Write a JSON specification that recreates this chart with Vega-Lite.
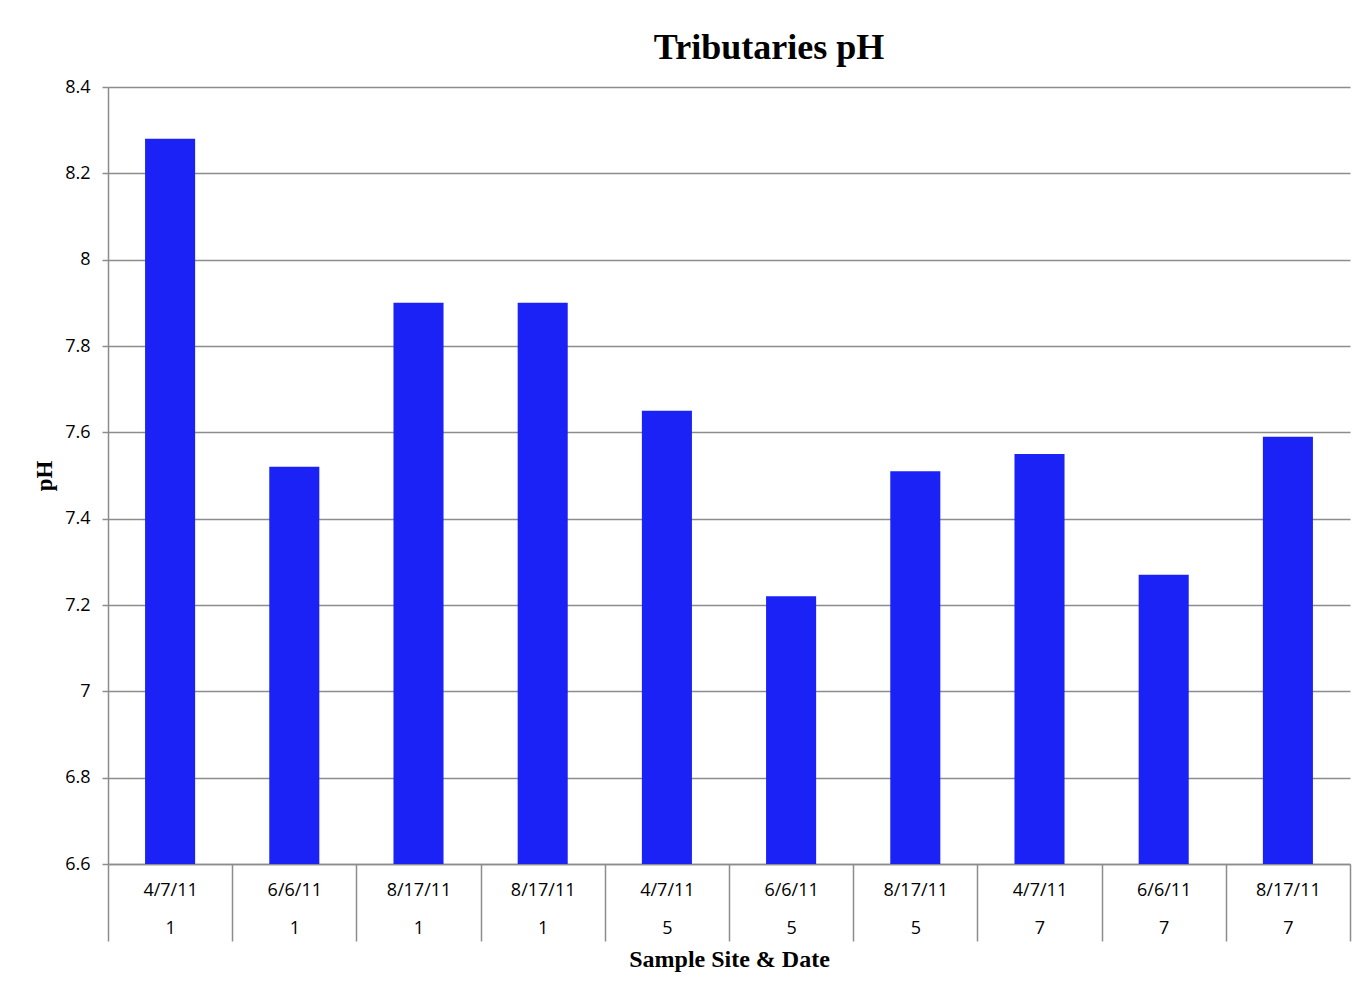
{
  "$schema": "https://vega.github.io/schema/vega-lite/v6.json",
  "autosize": {"type": "none"},
  "padding": {"left": 108, "top": 87, "right": 6, "bottom": 129},
  "width": 1242,
  "height": 777,
  "background": "white",
  "title": {
    "text": "Tributaries pH",
    "font": "Liberation Serif",
    "fontSize": 36,
    "fontWeight": "bold",
    "color": "black",
    "anchor": "middle",
    "dx": 40,
    "offset": 11
  },
  "data": {
    "values": [
      {"cat": "a|4/7/11|1", "date": "4/7/11", "site": "1", "pH": 8.28},
      {"cat": "b|6/6/11|1", "date": "6/6/11", "site": "1", "pH": 7.52},
      {"cat": "c|8/17/11|1", "date": "8/17/11", "site": "1", "pH": 7.9},
      {"cat": "d|8/17/11|1", "date": "8/17/11", "site": "1", "pH": 7.9},
      {"cat": "e|4/7/11|5", "date": "4/7/11", "site": "5", "pH": 7.65},
      {"cat": "f|6/6/11|5", "date": "6/6/11", "site": "5", "pH": 7.22},
      {"cat": "g|8/17/11|5", "date": "8/17/11", "site": "5", "pH": 7.51},
      {"cat": "h|4/7/11|7", "date": "4/7/11", "site": "7", "pH": 7.55},
      {"cat": "i|6/6/11|7", "date": "6/6/11", "site": "7", "pH": 7.27},
      {"cat": "j|8/17/11|7", "date": "8/17/11", "site": "7", "pH": 7.59}
    ]
  },
  "mark": {"type": "bar", "color": "#1a22f5", "width": {"band": 0.403}, "clip": true},
  "encoding": {
    "x": {
      "field": "cat",
      "type": "nominal",
      "sort": null,
      "scale": {"paddingInner": 0, "paddingOuter": 0},
      "axis": {
        "title": "Sample Site & Date",
        "titleFont": "Liberation Serif",
        "titleFontSize": 24,
        "titleFontWeight": "bold",
        "titleColor": "black",
        "titlePadding": 6,
        "labelExpr": "slice(split(datum.value, '|'), 1)",
        "labelAngle": 0,
        "labelFont": "Open Sans",
        "labelFontSize": 18,
        "labelColor": "black",
        "labelBaseline": "top",
        "labelLineHeight": 38,
        "labelPadding": -60,
        "tickBand": "extent",
        "tickSize": 77,
        "tickColor": "#8c8c8c",
        "tickWidth": 1.5,
        "domainColor": "#8c8c8c",
        "domainWidth": 1.5,
        "grid": false
      }
    },
    "y": {
      "field": "pH",
      "type": "quantitative",
      "scale": {"domain": [6.6, 8.4], "zero": false, "nice": false},
      "axis": {
        "title": "pH",
        "titleFont": "Liberation Serif",
        "titleFontSize": 23,
        "titleFontWeight": "bold",
        "titleColor": "black",
        "titlePadding": 8,
        "values": [6.6, 6.8, 7, 7.2, 7.4, 7.6, 7.8, 8, 8.2, 8.4],
        "format": ".1~f",
        "labelFont": "Open Sans",
        "labelFontSize": 18,
        "labelColor": "black",
        "labelPadding": 12,
        "tickSize": 6,
        "tickColor": "#8c8c8c",
        "tickWidth": 1.5,
        "domainColor": "#8c8c8c",
        "domainWidth": 1.5,
        "grid": true,
        "gridColor": "#8c8c8c",
        "gridWidth": 1.5
      }
    }
  },
  "config": {"view": {"stroke": null}}
}
